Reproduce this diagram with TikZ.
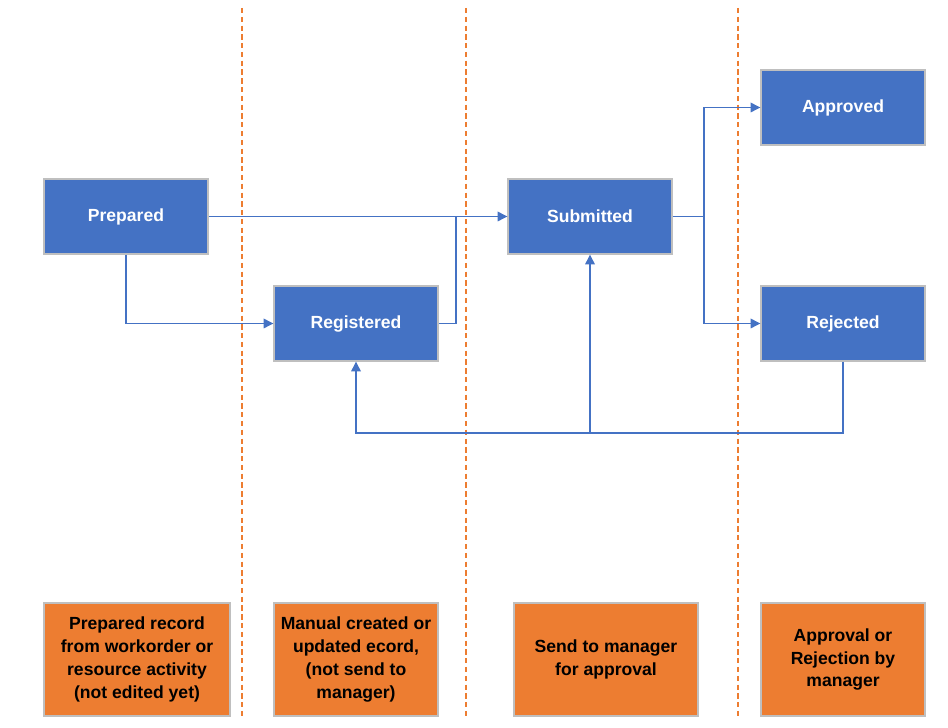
\documentclass[tikz,border=0pt]{standalone}
\usepackage{fontspec}
\setmainfont{Liberation Sans}
\usetikzlibrary{arrows.meta}

\definecolor{stateblue}{HTML}{4472C4}
\definecolor{noteorange}{HTML}{ED7D31}
\definecolor{boxgray}{HTML}{BFBFBF}

\begin{document}
\begin{tikzpicture}[
	state/.style={shape=rectangle,draw=boxgray,line width=0.8pt,fill=stateblue,text=white,font=\fontsize{10}{13}\selectfont\bfseries,minimum width=3.28cm,minimum height=1.5cm},
	note/.style={shape=rectangle,draw=boxgray,line width=0.8pt,fill=noteorange,text=black,font=\fontsize{10}{13}\selectfont\bfseries,align=center,inner sep=1pt,minimum height=2.26cm},
	lane/.style={draw=noteorange,line width=0.8pt,dash pattern=on 3pt off 2pt},
	flow/.style={draw=stateblue,line width=0.7pt},
	tip/.style={-{Triangle[length=5.5pt,width=5.5pt]}}]
	\useasboundingbox (0,0) rectangle (18.96,-14.56);

	% lanes
	\draw[lane] (4.84,-0.16) -- (4.84,-14.34);
	\draw[lane] (9.32,-0.16) -- (9.32,-14.34);
	\draw[lane] (14.76,-0.16) -- (14.76,-14.34);

	% states
	\node[state] (prepared) at (2.52,-4.33) {Prepared};
	\node[state] (registered) at (7.12,-6.47) {Registered};
	\node[state] (submitted) at (11.8,-4.33) {Submitted};
	\node[state] (approved) at (16.86,-2.15) {Approved};
	\node[state] (rejected) at (16.86,-6.47) {Rejected};

	\coordinate (join) at (9.12,-4.33);
	\coordinate (fork) at (14.08,-4.33);
	\coordinate (back) at (16.86,-8.66);
	\coordinate (resend) at (11.8,-8.66);

	\draw[flow,tip] (prepared.east) -- (submitted.west);
	\draw[flow,tip] (prepared.south) |- (registered.west);
	\draw[flow] (registered.east) -| (join);
	\draw[flow] (submitted.east) -- (fork);
	\draw[flow,tip] (fork) |- (approved.west);
	\draw[flow,tip] (fork) |- (rejected.west);
	\draw[flow,tip] (rejected.south) -- (back) -| (registered.south);
	\draw[flow,tip] (resend) -- (submitted.south);

	% notes
	\node[note,minimum width=3.72cm] (note1) at (2.74,-13.19) {Prepared record\\from workorder or\\resource activity\\(not edited yet)};
	\node[note,minimum width=3.28cm] (note2) at (7.12,-13.19) {Manual created or\\updated ecord,\\(not send to\\manager)};
	\node[note,minimum width=3.68cm] (note3) at (12.12,-13.19) {Send to manager\\for approval};
	\node[note,minimum width=3.28cm] (note4) at (16.86,-13.19) {Approval or\\Rejection by\\manager};
\end{tikzpicture}
\end{document}
